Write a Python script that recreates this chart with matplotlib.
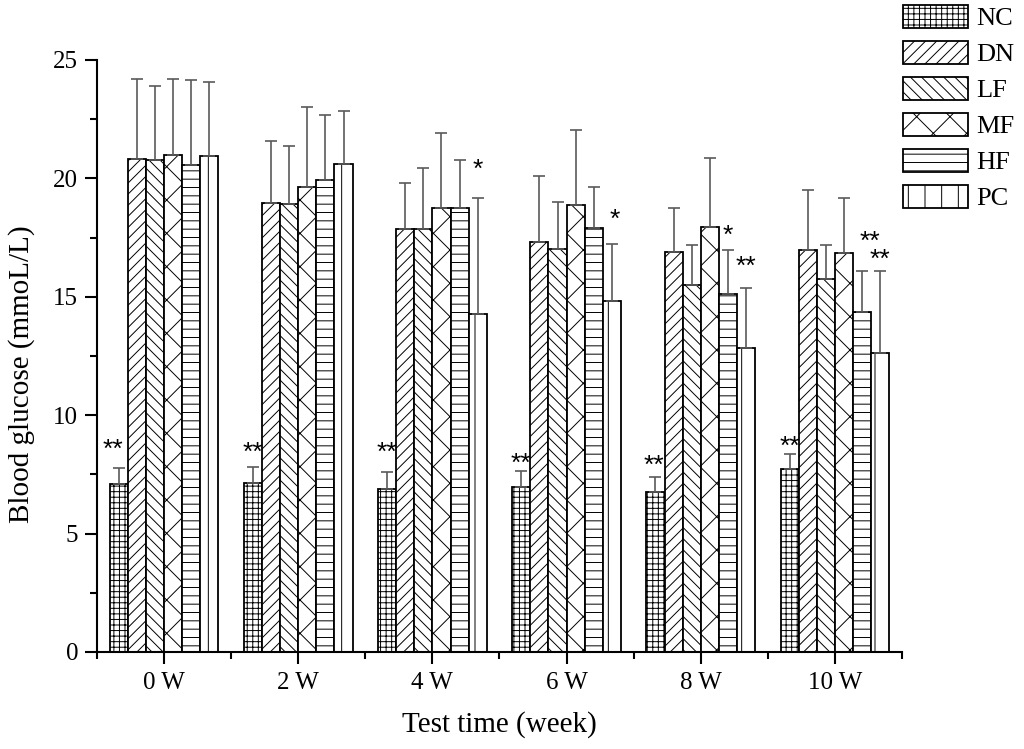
import numpy as np
import matplotlib
matplotlib.use("Agg")
import matplotlib.pyplot as plt
from matplotlib.ticker import MultipleLocator, FixedLocator

# ---- data ----
weeks = ["0 W", "2 W", "4 W", "6 W", "8 W", "10 W"]
groups = ["NC", "DN", "LF", "MF", "HF", "PC"]

nc_mean = [7.10, 7.14, 6.89, 6.96, 6.75, 7.73]
dn_mean = [20.82, 18.97, 17.86, 17.32, 16.91, 16.98]
lf_mean = [20.76, 18.91, 17.88, 17.01, 15.48, 15.75]
mf_mean = [20.98, 19.63, 18.77, 18.88, 17.94, 16.84]
hf_mean = [20.56, 19.93, 18.74, 17.91, 15.11, 14.35]
pc_mean = [20.93, 20.60, 14.29, 14.83, 12.84, 12.64]

nc_sd = [0.66, 0.68, 0.73, 0.70, 0.66, 0.65]
dn_sd = [3.37, 2.60, 1.93, 2.79, 1.86, 2.52]
lf_sd = [3.14, 2.47, 2.55, 1.99, 1.70, 1.43]
mf_sd = [3.21, 3.37, 3.13, 3.17, 2.92, 2.34]
hf_sd = [3.59, 2.76, 2.02, 1.72, 1.85, 1.75]
pc_sd = [3.15, 2.23, 4.90, 2.41, 2.54, 3.46]

# significance marks: (week index, group index, label, offsets above error bar)
sig_week = [0, 1, 2, 3, 4, 5, 2, 3, 4, 4, 5, 5]
sig_group = [0, 0, 0, 0, 0, 0, 5, 5, 4, 5, 4, 5]
sig_label = ["**", "**", "**", "**", "**", "**", "*", "*", "*", "**", "**", "**"]
sig_dy = [0.91, 0.69, 0.89, 0.42, 0.58, 0.41, 1.31, 1.15, 0.74, 1.01, 1.35, 0.60]
sig_dx = [-0.045, 0.0, 0.0, 0.0, -0.01, 0.0, 0.0, 0.02, 0.0, 0.0, 0.06, 0.0]

means = [nc_mean, dn_mean, lf_mean, mf_mean, hf_mean, pc_mean]
sds = [nc_sd, dn_sd, lf_sd, mf_sd, hf_sd, pc_sd]
hatches = ["+++", "///", "\\\\\\", "x", "--", "|"]

plt.rcParams["font.family"] = ["Liberation Serif", "DejaVu Serif"]
plt.rcParams["hatch.linewidth"] = 0.7
plt.rcParams["hatch.color"] = "black"

fig = plt.figure(figsize=(10.24, 7.49), dpi=100)
ax = fig.add_axes([97 / 1024, 1 - 652 / 749, (902 - 97) / 1024, (652 - 60) / 749])

x = np.arange(len(weeks))
w = 0.135
handles = []
for i, (g, m, s, h) in enumerate(zip(groups, means, sds, hatches)):
    pos = x + (i - 2.5) * w
    b = ax.bar(pos, m, width=w, color="white", edgecolor="black",
               linewidth=1.3, hatch=h, label=g, zorder=2)
    handles.append(b)
    ax.errorbar(pos, m, yerr=[np.zeros(len(m)), s], fmt="none",
                ecolor="#5a5a5a", elinewidth=1.2, capsize=4.3,
                capthick=1.2, zorder=3)

for wk, gi, lab, dy, dx in zip(sig_week, sig_group, sig_label, sig_dy, sig_dx):
    px = x[wk] + (gi - 2.5) * w + dx
    top = means[gi][wk] + sds[gi][wk]
    ax.text(px, top + dy - 0.12, lab, ha="center", va="center",
            fontsize=19, family=["Liberation Sans", "DejaVu Sans"], zorder=4)

ax.set_xlim(-0.5, 5.5)
ax.set_ylim(0, 25)
ax.set_xticks(x)
ax.set_xticklabels(weeks)
ax.xaxis.set_minor_locator(FixedLocator(np.arange(-0.5, 6.0, 1.0)))
ax.yaxis.set_major_locator(MultipleLocator(5))
ax.yaxis.set_minor_locator(MultipleLocator(2.5))

for sp in ["top", "right"]:
    ax.spines[sp].set_visible(False)
for sp in ["left", "bottom"]:
    ax.spines[sp].set_linewidth(1.5)

ax.tick_params(which="major", direction="out", length=8.5, width=1.5,
               labelsize=18, pad=5)
ax.tick_params(axis="x", which="major", pad=6)
ax.tick_params(which="minor", direction="out", length=5, width=1.5)

ax.set_xlabel("Test time (week)", fontsize=21, labelpad=12)
ax.set_ylabel("Blood glucose (mmoL/L)", fontsize=21)
ax.yaxis.set_label_coords(-0.077, 0.47)

fig.legend(handles=handles, labels=groups, loc="upper left",
           bbox_to_anchor=(903 / 1024, 1 - 5 / 749), frameon=False,
           fontsize=19, handlelength=2.46, handleheight=0.95,
           handletextpad=0.3, labelspacing=0.4, borderpad=0,
           borderaxespad=0)

fig.savefig("out.png", dpi=100)
